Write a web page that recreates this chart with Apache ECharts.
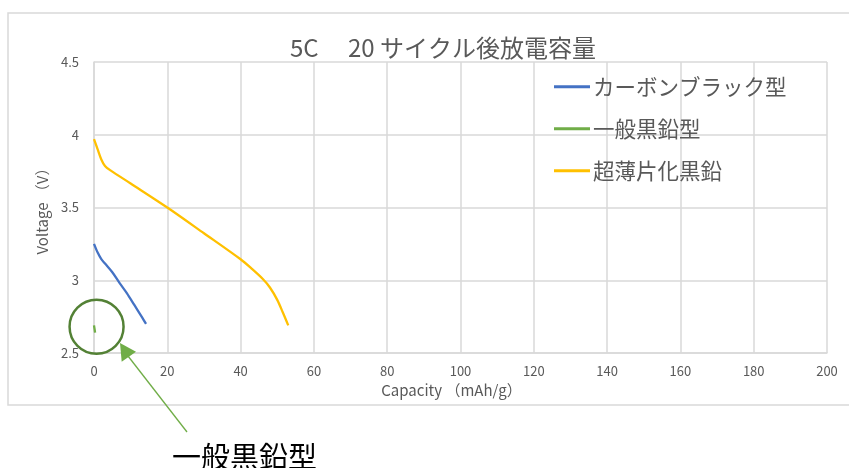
<!DOCTYPE html>
<html>
<head>
<meta charset="utf-8">
<script src="https://cdn.jsdelivr.net/npm/echarts@6/dist/echarts.min.js"></script>
<style>
  html, body { margin: 0; padding: 0; background: #fff; }
  #chart { width: 849px; height: 468px; }
</style>
</head>
<body>
<div id="chart"></div>
<script>
// Discharge curves after 20 cycles at 5C: [capacity mAh/g, voltage V]
const carbonBlack = [
  [0, 3.25], [1, 3.19], [2, 3.145], [3, 3.115], [5, 3.055], [7, 2.98],
  [9, 2.91], [11, 2.83], [13, 2.75], [14.2, 2.70]
];
const graphite = [
  [0, 2.69], [0.3, 2.64]
];
const thinGraphite = [
  [0, 3.97], [1, 3.9], [2, 3.83], [3, 3.785], [4.5, 3.755], [10, 3.665],
  [20, 3.5], [30, 3.323], [40, 3.144], [43, 3.08], [46, 3.01], [48, 2.95],
  [50, 2.865], [51.5, 2.78], [53, 2.69]
];
const seriesNames = ['カーボンブラック型', '一般黒鉛型', '超薄片化黒鉛'];
const titleText = '5C\u3000 20 サイクル後放電容量';
const calloutText = '一般黒鉛型';

const font = '"Noto Sans CJK JP", "Noto Sans", sans-serif';
const textGrey = '#595959';
const gridGrey = '#D9D9D9';

const chart = echarts.init(document.getElementById('chart'), null, { renderer: 'canvas' });

const mkLine = (name, data, color) => ({
  name, type: 'line', data, smooth: 0.3, showSymbol: false, symbol: 'none',
  lineStyle: { color, width: 2.3 }, itemStyle: { color }, z: 3
});

chart.setOption({
  backgroundColor: '#fff',
  animation: false,
  title: {
    text: titleText, left: 438, top: 31, textAlign: 'center',
    textStyle: { fontFamily: font, fontSize: 24, fontWeight: 'normal', color: textGrey }
  },
  legend: {
    orient: 'vertical', left: 549, top: 71, itemGap: 20.5,
    itemWidth: 36, itemHeight: 3, icon: 'rect',
    textStyle: { fontFamily: font, fontSize: 21.5, color: textGrey, padding: [0, 0, 0, -2] },
    data: seriesNames.map(n => ({ name: n, icon: 'rect' }))
  },
  grid: { left: 94, right: 22, top: 62, bottom: 115, containLabel: false },
  xAxis: {
    type: 'value', min: 0, max: 200, interval: 20,
    name: 'Capacity （mAh/g）', nameLocation: 'middle', nameGap: 28,
    nameTextStyle: { fontFamily: font, fontSize: 15, color: textGrey, padding: [0, 18, 0, 0] },
    axisLine: { show: true, lineStyle: { color: gridGrey, width: 1.5 } },
    axisTick: { show: false },
    axisLabel: { fontFamily: font, fontSize: 13, color: textGrey, margin: 12 },
    splitLine: { show: true, lineStyle: { color: gridGrey, width: 1.5 } }
  },
  yAxis: {
    type: 'value', min: 2.5, max: 4.5, interval: 0.5,
    name: 'Voltage （V）', nameLocation: 'middle', nameGap: 44, nameRotate: 90,
    nameTextStyle: { fontFamily: font, fontSize: 15, color: textGrey },
    axisLine: { show: true, lineStyle: { color: gridGrey, width: 1.5 } },
    axisTick: { show: false },
    axisLabel: { fontFamily: font, fontSize: 13, color: textGrey, margin: 15 },
    splitLine: { show: true, lineStyle: { color: gridGrey, width: 1.5 } }
  },
  series: [
    mkLine(seriesNames[0], carbonBlack, '#4472C4'),
    mkLine(seriesNames[1], graphite, '#70AD47'),
    mkLine(seriesNames[2], thinGraphite, '#FFC000')
  ]
});

// Callout highlighting the tiny 一般黒鉛型 curve near the origin
const c = chart.convertToPixel({ gridIndex: 0 }, [0.7, 2.68]);
chart.setOption({
  graphic: [
    {
      type: 'rect', silent: true, z: -1,
      shape: { x: 8, y: 13, width: 900, height: 392 },
      style: { fill: 'none', stroke: gridGrey, lineWidth: 1.5 }
    },
    {
      type: 'circle', silent: true, z: 10,
      shape: { cx: c[0], cy: c[1], r: 27 },
      style: { fill: 'none', stroke: '#538135', lineWidth: 2.5 }
    },
    {
      type: 'line', silent: true, z: 10,
      shape: { x1: 187, y1: 432, x2: 128, y2: 356 },
      style: { stroke: '#70AD47', lineWidth: 1.3 }
    },
    {
      type: 'polygon', silent: true, z: 10,
      shape: { points: [[120, 343], [121.7, 361.7], [136, 351.7]] },
      style: { fill: '#70AD47' }
    },
    {
      type: 'text', silent: true, z: 10,
      style: {
        text: calloutText, x: 172, y: 442,
        font: '29px "Noto Sans CJK JP", sans-serif', fill: '#000'
      }
    }
  ]
});
</script>
</body>
</html>
